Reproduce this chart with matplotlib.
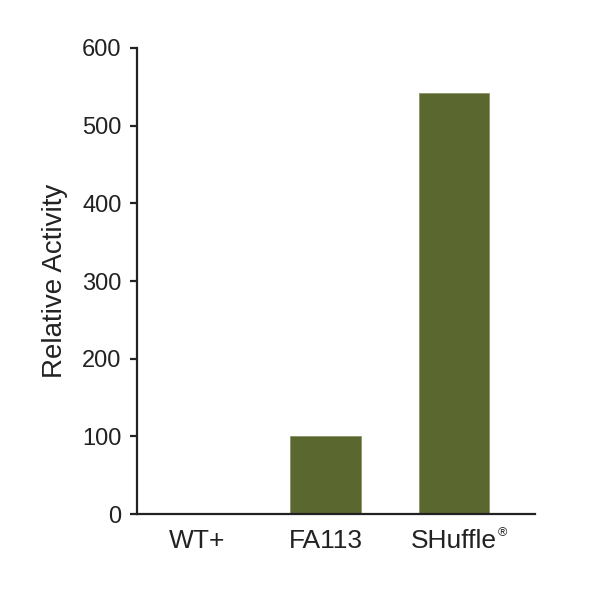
import matplotlib
matplotlib.use("Agg")
import matplotlib.pyplot as plt

categories = ["WT+", "FA113", "SHuffle"]
values = [0, 100, 542]
yticks = [0, 100, 200, 300, 400, 500, 600]

plt.rcParams['font.family'] = ['Liberation Sans', 'DejaVu Sans']

fig = plt.figure(figsize=(6, 6), dpi=100)
ax = fig.add_axes([0.228, 0.1433, 0.664, 0.7767])
x = list(range(len(categories)))
ax.bar(x, values, width=0.545, color="#5a672f", edgecolor="#8a9468", linewidth=0.6)
ax.set_xlim(-0.467, 2.63)
ax.set_ylim(0, 600)
ax.set_yticks(yticks)
ax.set_xticks(x)
ax.set_xticklabels(categories)
for s in ["top", "right"]:
    ax.spines[s].set_visible(False)
for s in ["left", "bottom"]:
    ax.spines[s].set_linewidth(1.6)
    ax.spines[s].set_color("#222222")
ax.tick_params(axis='y', length=5, width=1.6, pad=6, labelsize=17, colors="#222222")
ax.tick_params(axis='x', length=0, pad=11, labelsize=19, colors="#222222")
ax.set_ylabel("Relative Activity", fontsize=20, color="#222222", labelpad=10)

lbl = ax.get_xticklabels()[2]
ax.annotate("®", xy=(1.0, 1.0), xycoords=lbl, xytext=(0.5, 1.5), textcoords="offset points",
            ha="left", va="top", fontsize=9, color="#222222")
fig.savefig("out.png", dpi=100)
